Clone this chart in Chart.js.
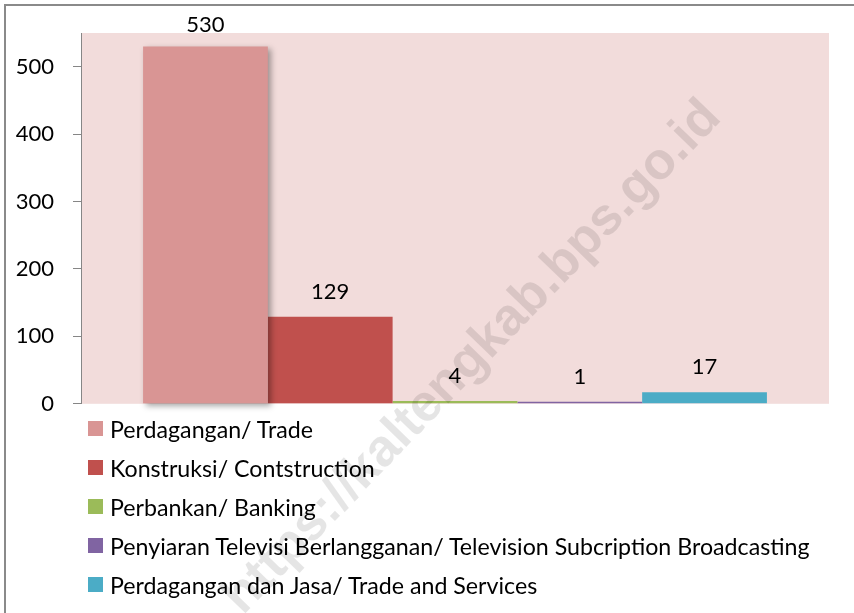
<!DOCTYPE html>
<html>
<head>
<meta charset="utf-8">
<script src="https://cdn.jsdelivr.net/npm/chart.js@4.4.1/dist/chart.umd.min.js"></script>
<style>
  body { margin: 0; background: #fff; }
  #wrap { position: relative; width: 854px; height: 613px; overflow: hidden; background: #fff; }
  #frame { position: absolute; left: 4px; top: 4px; right: -10px; bottom: -10px;
           border-left: 2px solid #8a8a8a; border-top: 2px solid #8a8a8a; }
  #chartBox { position: absolute; left: 0; top: 0; width: 854px; height: 436px; }
  #legend { position: absolute; left: 88px; top: 409px; font-family: Lato, sans-serif;
            font-size: 23.2px; color: #000; }
  .item { display: flex; align-items: center; height: 39px; white-space: nowrap; }
  .box { width: 15px; height: 15px; margin-right: 7px; flex: none; }
  #wm { position: absolute; left: 470px; top: 355px; transform: translate(-50%, -50%) rotate(-46deg);
        font-family: "Liberation Sans", Arial, sans-serif; font-weight: bold; font-size: 52px;
        color: rgba(0, 0, 0, 0.1); white-space: nowrap; pointer-events: none; }
</style>
</head>
<body>
<div id="wrap">
  <div id="frame"></div>
  <div id="chartBox"><canvas id="chart"></canvas></div>
  <div id="legend"></div>
  <div id="wm">https://kaltengkab.bps.go.id</div>
</div>
<script>
const categories = [''];
const seriesLabels = [
    'Perdagangan/ Trade',
    'Konstruksi/ Contstruction',
    'Perbankan/ Banking',
    'Penyiaran Televisi Berlangganan/ Television Subcription Broadcasting',
    'Perdagangan dan Jasa/ Trade and Services'
];
const seriesValues = [530, 129, 4, 1, 17];
const seriesColors = ['#D99594', '#C0504D', '#9BBB59', '#8064A2', '#4BACC6'];
const yTicks = [0, 100, 200, 300, 400, 500];

Chart.defaults.font.family = 'Lato';

const plotBg = {
    id: 'plotBg',
    beforeDraw(chart) {
        const { ctx, chartArea: a } = chart;
        ctx.save();
        ctx.fillStyle = '#F2DCDB';
        ctx.fillRect(a.left, a.top, a.right - a.left, a.bottom - a.top);
        ctx.restore();
    }
};

const barShadow = {
    id: 'barShadow',
    beforeDatasetDraw(chart, args) {
        if (args.index !== 0) return;
        const ctx = chart.ctx;
        ctx.save();
        ctx.shadowColor = 'rgba(0,0,0,0.35)';
        ctx.shadowBlur = 6;
        ctx.shadowOffsetX = 3;
        ctx.shadowOffsetY = 3;
    },
    afterDatasetDraw(chart, args) {
        if (args.index === 0) chart.ctx.restore();
    }
};

const valueLabels = {
    id: 'valueLabels',
    afterDatasetsDraw(chart) {
        const ctx = chart.ctx;
        ctx.save();
        ctx.fillStyle = '#000';
        ctx.font = '22px Lato';
        ctx.textAlign = 'center';
        ctx.textBaseline = 'middle';
        chart.data.datasets.forEach((ds, i) => {
            const el = chart.getDatasetMeta(i).data[0];
            ctx.fillText(String(ds.data[0]), el.x, Math.max(el.y - 25, 25));
        });
        ctx.restore();
    }
};

const chart = new Chart(document.getElementById('chart'), {
    type: 'bar',
    data: {
        labels: categories,
        datasets: seriesLabels.map((label, i) => ({
            label: label,
            data: [seriesValues[i]],
            backgroundColor: seriesColors[i],
            borderWidth: 0,
            categoryPercentage: 0.834,
            barPercentage: 1,
            minBarLength: 2,
            clip: false
        }))
    },
    options: {
        responsive: true,
        maintainAspectRatio: false,
        animation: false,
        layout: { padding: { top: 33, right: 25, bottom: 1, left: 0 } },
        plugins: {
            legend: { display: false },
            tooltip: { enabled: false }
        },
        scales: {
            x: { display: false },
            y: {
                min: 0,
                max: 550,
                afterBuildTicks: axis => { axis.ticks = yTicks.map(v => ({ value: v })); },
                afterFit: axis => { axis.width = 81; },
                border: { color: '#868686', width: 1 },
                grid: { drawOnChartArea: false, tickLength: 8, color: '#868686' },
                ticks: { padding: 19, color: '#000', font: { size: 22 } }
            }
        }
    },
    plugins: [plotBg, barShadow, valueLabels]
});

// legend below the plot, one entry per row
const legendEl = document.getElementById('legend');
chart.data.datasets.forEach(ds => {
    const row = document.createElement('div');
    row.className = 'item';
    const box = document.createElement('span');
    box.className = 'box';
    box.style.background = ds.backgroundColor;
    const txt = document.createElement('span');
    txt.textContent = ds.label;
    row.appendChild(box);
    row.appendChild(txt);
    legendEl.appendChild(row);
});
</script>
</body>
</html>
